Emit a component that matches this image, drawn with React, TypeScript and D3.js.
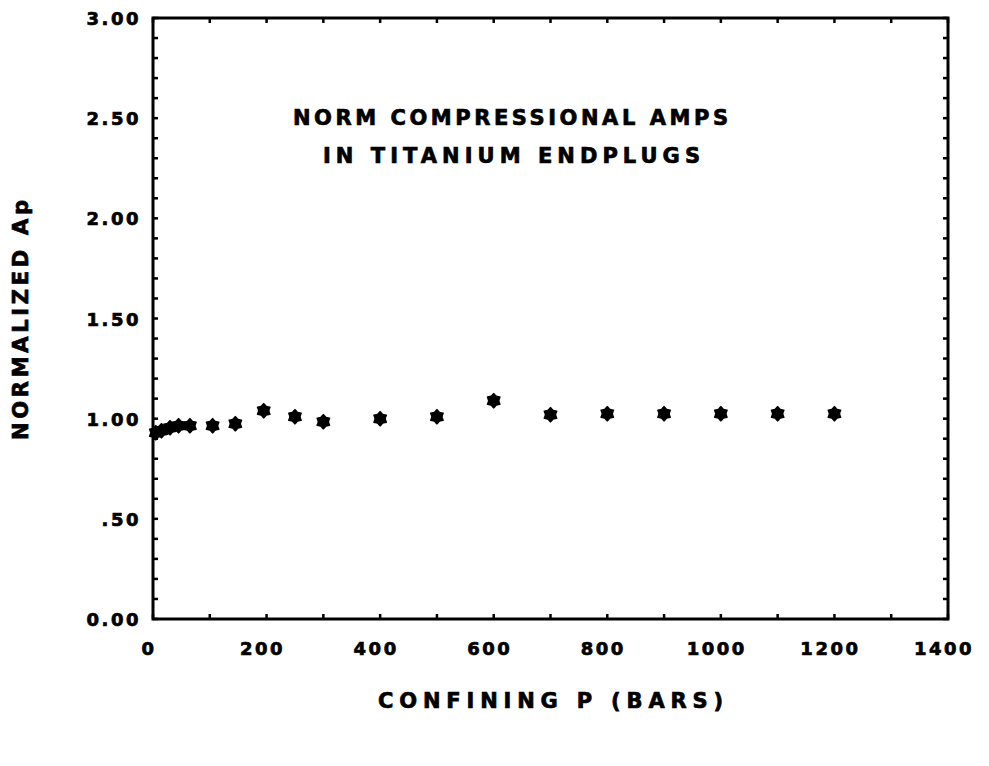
import React from "react";
import * as d3 from "d3";

// Confining pressure (bars) and normalized compressional amplitude
const pressure = [5, 15, 30, 45, 65, 105, 145, 195, 250, 300, 400, 500, 600, 700, 800, 900, 1000, 1100, 1200];
const normAmp = [0.93, 0.94, 0.955, 0.965, 0.965, 0.965, 0.975, 1.04, 1.01, 0.985, 1.0, 1.01, 1.09, 1.02, 1.025, 1.025, 1.025, 1.025, 1.025];

const xTickValues = [0, 200, 400, 600, 800, 1000, 1200, 1400];
const yTickValues = [0, 0.5, 1.0, 1.5, 2.0, 2.5, 3.0];
const yTickLabels = ["0.00", ".50", "1.00", "1.50", "2.00", "2.50", "3.00"];

const titleLines = ["NORM COMPRESSIONAL AMPS", "IN TITANIUM ENDPLUGS"];
const xTitle = "CONFINING P (BARS)";
const yTitle = "NORMALIZED Ap";

const W = 989;
const H = 766;
const left = 153;
const right = 948;
const top = 18;
const bottom = 619;

const FONT = "'DejaVu Sans', sans-serif";

export default function App() {
  const x = d3.scaleLinear().domain([0, 1400]).range([left, right]);
  const y = d3.scaleLinear().domain([0, 3]).range([bottom, top]);

  const minorX = d3.range(0, 1401, 100);
  const minorY = d3.range(0, 31, 1).map((v) => v / 10);

  // six-lobed star marker
  const starPts: [number, number][] = d3.range(12).map((i) => [
    (i * Math.PI) / 6,
    i % 2 === 0 ? 8 : 5.8,
  ]);
  const star = d3.lineRadial().curve(d3.curveCardinalClosed.tension(0.3))(starPts) || "";

  const tickLen = 5;
  const txt = { fontFamily: FONT, fontWeight: "bold" as const, stroke: "#000", strokeWidth: 0.7 };

  return (
    <svg width={W} height={H} style={{ position: "absolute", left: 0, top: 0, background: "#fff" }}>
      <rect width={W} height={H} fill="#fff" />
      {/* frame */}
      <rect x={left} y={top} width={right - left} height={bottom - top} fill="none" stroke="#000" strokeWidth={3} />
      {/* ticks */}
      {minorX.map((v) => (
        <g key={"tx" + v}>
          <line x1={x(v)} x2={x(v)} y1={bottom} y2={bottom - tickLen} stroke="#000" strokeWidth={2.5} />
          <line x1={x(v)} x2={x(v)} y1={top} y2={top + tickLen} stroke="#000" strokeWidth={2.5} />
        </g>
      ))}
      {minorY.map((v) => (
        <g key={"ty" + v}>
          <line x1={left} x2={left + tickLen} y1={y(v)} y2={y(v)} stroke="#000" strokeWidth={2.5} />
          <line x1={right} x2={right - tickLen} y1={y(v)} y2={y(v)} stroke="#000" strokeWidth={2.5} />
        </g>
      ))}
      {/* tick labels */}
      {xTickValues.map((v) => (
        <text key={"lx" + v} x={x(v) - 4} y={655} textAnchor="middle" fontSize={18} letterSpacing={2.5} {...txt}>
          {String(v)}
        </text>
      ))}
      {yTickValues.map((v, i) => (
        <text key={"ly" + v} x={141} y={y(v) + 7} textAnchor="end" fontSize={18} letterSpacing={2.5} {...txt}>
          {yTickLabels[i]}
        </text>
      ))}
      {/* title */}
      <text x={293} y={125} textLength={435} lengthAdjust="spacing" fontSize={21} {...txt}>
        {titleLines[0]}
      </text>
      <text x={323} y={163} textLength={377} lengthAdjust="spacing" fontSize={21} {...txt}>
        {titleLines[1]}
      </text>
      {/* axis titles */}
      <text x={378} y={708} textLength={345} lengthAdjust="spacing" fontSize={21} {...txt}>
        {xTitle}
      </text>
      <text transform="translate(28,440) rotate(-90)" textLength={240} lengthAdjust="spacing" fontSize={21} {...txt}>
        {yTitle}
      </text>
      {/* data */}
      {pressure.map((p, i) => (
        <path key={"pt" + i} d={star} transform={`translate(${x(p)},${y(normAmp[i])})`} fill="#000" />
      ))}
    </svg>
  );
}
